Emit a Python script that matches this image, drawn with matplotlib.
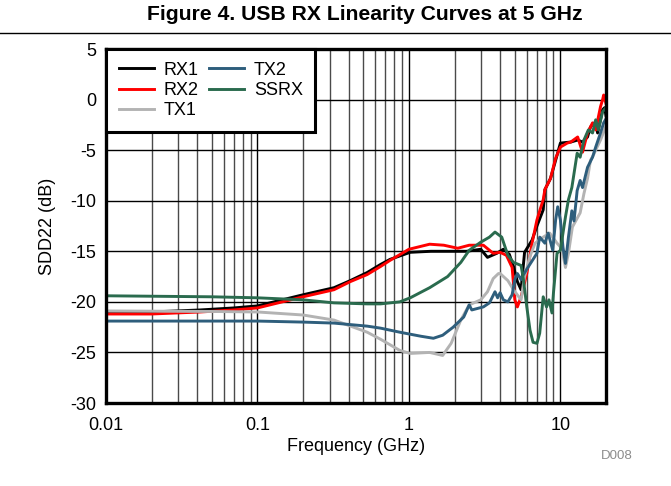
import matplotlib
matplotlib.use("Agg")
import matplotlib.pyplot as plt
from matplotlib.lines import Line2D

plt.rcParams['font.family'] = ['Liberation Sans', 'DejaVu Sans']
plt.rcParams['axes.unicode_minus'] = False

# Frequencies (GHz) and SDD22 (dB)
rx1_f = [0.01, 0.02, 0.042, 0.07, 0.1, 0.2, 0.32, 0.41, 0.53, 0.65, 0.75, 1.02, 1.4, 1.8,
         2.4, 2.98, 3.3, 3.8, 4.2, 4.6, 4.9, 5.2, 5.5, 5.8, 6.5, 7.0, 7.7, 7.9, 8.6, 9.3,
         10.0, 11.7, 13.0, 14.0, 15.1, 15.8, 17.1, 17.6, 19.0, 19.6, 20.0]
rx1_db = [-21.0, -21.0, -20.8, -20.6, -20.4, -19.3, -18.6, -17.9, -17.1, -16.3, -15.8, -15.1, -15.0, -15.0,
          -15.0, -14.8, -15.6, -15.2, -14.8, -15.3, -16.5, -18.0, -18.8, -15.1, -13.9, -12.5, -10.9, -8.9, -7.8, -6.0,
          -4.3, -4.2, -4.0, -4.2, -3.7, -2.7, -2.2, -3.3, -1.0, -0.8, -1.6]

rx2_f = [0.01, 0.02, 0.042, 0.07, 0.1, 0.2, 0.32, 0.41, 0.53, 0.65, 0.75, 1.0, 1.37, 1.7,
         2.1, 2.5, 3.1, 3.6, 4.0, 4.4, 4.8, 5.0, 5.2, 5.5, 6.0, 6.5, 7.0, 7.3, 7.7, 7.9,
         8.6, 9.3, 10.0, 11.1, 11.7, 13.0, 14.0, 15.1, 16.3, 17.1, 18.4, 19.0, 19.3, 20.0]
rx2_db = [-21.2, -21.2, -21.0, -20.8, -20.6, -19.5, -18.8, -18.0, -17.3, -16.5, -15.9, -14.8, -14.3, -14.4,
          -14.7, -14.4, -14.4, -15.2, -15.1, -15.4, -16.6, -19.8, -20.5, -19.5, -17.2, -14.2, -11.9, -11.0, -9.9, -8.9,
          -7.8, -5.8, -4.7, -4.3, -4.2, -3.7, -5.2, -3.3, -2.3, -3.0, -0.7, 0.0, 0.45, -0.4]

tx1_f = [0.01, 0.05, 0.1, 0.2, 0.32, 0.53, 0.65, 0.87, 1.02, 1.37, 1.67, 1.9, 2.2, 2.5,
         2.98, 3.3, 3.6, 3.9, 4.0, 4.5, 4.9, 5.5, 5.8, 6.3, 6.8, 7.7, 8.5, 9.5, 10.2, 10.8,
         11.3, 12.0, 13.5, 14.3, 15.1, 15.8, 16.5, 17.6, 18.4, 19.3, 20.0]
tx1_db = [-20.9, -20.95, -21.0, -21.3, -21.8, -23.0, -23.7, -24.8, -25.1, -25.0, -25.3, -24.1, -21.8, -20.3,
          -19.8, -19.0, -17.7, -17.2, -17.2, -17.9, -18.8, -19.8, -17.5, -15.5, -14.2, -13.6, -13.2, -14.2, -14.7, -16.6,
          -15.2, -12.6, -11.2, -9.3, -7.8, -6.0, -5.5, -4.6, -4.0, -3.2, -2.6]

tx2_f = [0.01, 0.1, 0.2, 0.32, 0.53, 0.65, 0.87, 1.2, 1.45, 1.67, 1.96, 2.3, 2.5, 2.6,
         3.1, 3.4, 3.7, 3.85, 4.0, 4.2, 4.5, 4.8, 5.0, 5.2, 5.5, 5.6, 6.1, 7.0, 7.3, 7.9,
         8.3, 8.9, 9.3, 9.6, 10.0, 10.4, 10.8, 11.3, 11.9, 12.3, 12.9, 13.5, 14.0, 15.1,
         16.3, 17.1, 18.4, 19.3, 20.0]
tx2_db = [-21.9, -21.9, -22.0, -22.1, -22.4, -22.6, -23.0, -23.4, -23.6, -23.3, -22.5, -21.5, -20.3, -20.8,
          -20.5, -20.1, -19.0, -19.6, -19.1, -19.8, -20.0, -19.3, -17.8, -17.2, -17.8, -17.5, -16.6, -15.2, -13.6, -14.2,
          -13.2, -14.9, -11.9, -10.6, -11.9, -14.6, -16.2, -13.6, -11.0, -12.0, -9.0, -8.0, -8.7, -6.7,
          -5.7, -4.7, -3.3, -2.3, -1.9]

ssrx_f = [0.01, 0.05, 0.1, 0.2, 0.32, 0.53, 0.65, 0.87, 1.02, 1.37, 1.8, 2.2, 2.5, 2.98,
          3.4, 3.7, 4.1, 4.5, 4.9, 5.5, 5.7, 6.0, 6.3, 6.6, 7.0, 7.3, 7.7, 8.1, 8.4, 8.8,
          9.0, 9.5, 10.0, 10.4, 10.8, 11.3, 11.9, 12.9, 13.5, 14.3, 15.3, 16.3, 17.1, 17.8,
          19.0, 20.0]
ssrx_db = [-19.4, -19.5, -19.6, -19.8, -20.1, -20.2, -20.2, -20.0, -19.6, -18.6, -17.5, -16.1, -14.9, -14.1,
           -13.6, -13.1, -13.6, -15.4, -16.1, -16.4, -17.8, -20.5, -22.8, -24.0, -24.1, -23.1, -19.5, -20.5, -19.8, -21.1,
           -19.1, -15.2, -14.9, -13.2, -11.6, -9.9, -8.7, -5.3, -5.7, -4.0, -3.0, -3.3, -2.0, -3.0,
           -1.2, -0.8]

W, H = 671, 486
fig = plt.figure(figsize=(W / 100, H / 100), dpi=100)
ax = fig.add_axes([106 / W, 1 - 403 / H, 500 / W, 354 / H])

lw = 2.1
ax.plot(rx1_f, rx1_db, color='black', lw=lw, label='RX1')
ax.plot(rx2_f, rx2_db, color='#FF0000', lw=lw, label='RX2')
ax.plot(tx1_f, tx1_db, color='#B3B3B3', lw=lw, label='TX1')
ax.plot(tx2_f, tx2_db, color='#2E5E7C', lw=lw, label='TX2')
ax.plot(ssrx_f, ssrx_db, color='#2A6B4E', lw=lw, label='SSRX')

ax.set_xscale('log')
ax.set_xlim(0.01, 20)
ax.set_ylim(-30, 5)
ax.set_yticks(range(-30, 6, 5))
ax.set_xticks([0.01, 0.1, 1, 10])
ax.set_xticklabels(['0.01', '0.1', '1', '10'])
ax.tick_params(which='both', length=0, labelsize=13)
ax.tick_params(axis='x', pad=10)
ax.tick_params(axis='y', pad=7)

ax.grid(which='major', color='black', lw=1)
ax.grid(which='minor', axis='x', color='#4a4a4a', lw=1)
ax.set_axisbelow(True)
for s in ax.spines.values():
    s.set_linewidth(2.4)

ax.set_xlabel('Frequency (GHz)', fontsize=13, labelpad=3)
ax.set_ylabel('SDD22 (dB)', fontsize=13, labelpad=10)

leg = ax.legend(loc='upper left', ncol=2, fontsize=13, frameon=True, fancybox=False,
                framealpha=1, edgecolor='black', borderaxespad=0, handlelength=1.95,
                handletextpad=0.55, columnspacing=0.55, labelspacing=0.18, borderpad=0.7)
leg.get_frame().set_linewidth(2.2)

fig.text(365 / W, 1 - 15 / H, 'Figure 4. USB RX Linearity Curves at 5 GHz', ha='center', va='center',
         fontsize=15.2, fontweight='bold')
fig.add_artist(Line2D([0, 1], [1 - 33 / H, 1 - 33 / H], transform=fig.transFigure, color='black', lw=1))
fig.text(617 / W, 1 - 456 / H, 'D008', ha='center', va='center', fontsize=9.5, color='#8c8c8c')

fig.savefig('out.png', dpi=100)
